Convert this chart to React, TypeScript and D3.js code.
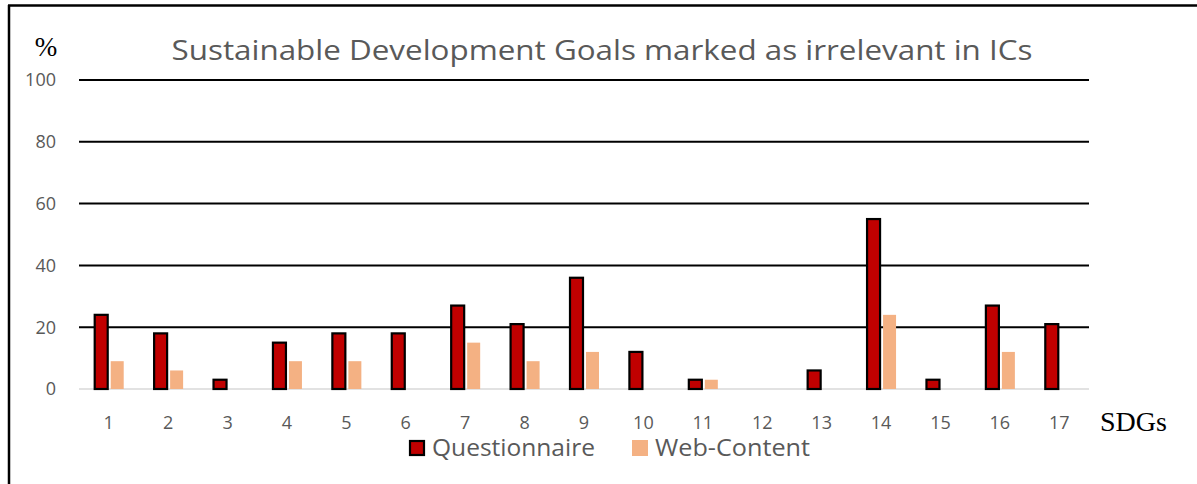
import React, { useEffect, useRef } from "react";
import * as d3 from "d3";

const goals = ["1", "2", "3", "4", "5", "6", "7", "8", "9", "10", "11", "12", "13", "14", "15", "16", "17"];
const questionnaire = [24, 18, 3, 15, 18, 18, 27, 21, 36, 12, 3, 0, 6, 55, 3, 27, 21];
const webContent = [9, 6, 0, 9, 9, 0, 15, 9, 12, 0, 3, 0, 0, 24, 0, 12, 0];
const yTicks = [0, 20, 40, 60, 80, 100];
const seriesNames = ["Questionnaire", "Web-Content"];

const W = 1197;
const H = 484;
const FONT = "'Open Sans', 'Noto Sans', sans-serif";
const SERIF = "'Liberation Serif', 'DejaVu Serif', serif";

export default function App() {
  const ref = useRef<SVGSVGElement>(null);

  useEffect(() => {
    const svg = d3.select(ref.current);
    svg.selectAll("*").remove();

    const x = d3.scaleBand().domain(goals).range([79, 1089]);
    const y = d3.scaleLinear().domain([0, 100]).range([389, 80]);

    // outer frame (top + left edges only visible)
    svg.append("line").attr("x1", 8).attr("x2", W).attr("y1", 5.5).attr("y2", 5.5)
      .attr("stroke", "#000").attr("stroke-width", 2.5);
    svg.append("line").attr("x1", 9).attr("x2", 9).attr("y1", 5).attr("y2", H)
      .attr("stroke", "#000").attr("stroke-width", 2.5);

    // title
    svg.append("text")
      .attr("x", 602).attr("y", 60)
      .attr("text-anchor", "middle")
      .attr("font-family", FONT).attr("font-size", 27)
      .attr("fill", "#595959")
      .attr("textLength", 861).attr("lengthAdjust", "spacingAndGlyphs")
      .text("Sustainable Development Goals marked as irrelevant in ICs");

    svg.append("text")
      .attr("x", 46).attr("y", 56)
      .attr("text-anchor", "middle")
      .attr("font-family", SERIF)
      .attr("font-size", 27).attr("fill", "#000")
      .text("%");

    // gridlines
    svg.append("g").selectAll("line")
      .data(yTicks.filter(d => d > 0))
      .join("line")
      .attr("x1", 79).attr("x2", 1089)
      .attr("y1", d => y(d)).attr("y2", d => y(d))
      .attr("stroke", "#000").attr("stroke-width", 2);

    svg.append("line")
      .attr("x1", 79).attr("x2", 1089)
      .attr("y1", y(0)).attr("y2", y(0))
      .attr("stroke", "#d9d9d9").attr("stroke-width", 1.5);

    // y tick labels
    svg.append("g").selectAll("text")
      .data(yTicks)
      .join("text")
      .attr("x", 56).attr("y", d => y(d))
      .attr("dy", "0.36em")
      .attr("text-anchor", "end")
      .attr("font-family", FONT).attr("font-size", 18)
      .attr("fill", "#595959")
      .text(d => d);

    // x tick labels
    svg.append("g").selectAll("text")
      .data(goals)
      .join("text")
      .attr("x", d => (x(d) as number) + x.bandwidth() / 2)
      .attr("y", 423)
      .attr("dy", "0.36em")
      .attr("text-anchor", "middle")
      .attr("font-family", FONT).attr("font-size", 18)
      .attr("fill", "#595959")
      .text(d => d);

    svg.append("text")
      .attr("x", 1100).attr("y", 431)
      .attr("font-family", SERIF)
      .attr("font-size", 28).attr("fill", "#000")
      .text("SDGs");

    const bw = 13;

    // web-content bars
    svg.append("g").selectAll("rect")
      .data(webContent.map((v, i) => ({ v, g: goals[i] })).filter(d => d.v > 0))
      .join("rect")
      .attr("x", d => (x(d.g) as number) + x.bandwidth() / 2 + 2)
      .attr("y", d => y(d.v))
      .attr("width", bw)
      .attr("height", d => y(0) - y(d.v))
      .attr("fill", "#f4b183");

    // questionnaire bars
    svg.append("g").selectAll("rect")
      .data(questionnaire.map((v, i) => ({ v, g: goals[i] })).filter(d => d.v > 0))
      .join("rect")
      .attr("x", d => (x(d.g) as number) + x.bandwidth() / 2 - 14)
      .attr("y", d => y(d.v))
      .attr("width", bw)
      .attr("height", d => y(0) - y(d.v))
      .attr("fill", "#c00000")
      .attr("stroke", "#000")
      .attr("stroke-width", 2.2);

    // legend
    const legend = svg.append("g");
    const lx = [409, 632];
    const lw = [163, 155];
    seriesNames.forEach((name, i) => {
      legend.append("rect")
        .attr("x", lx[i]).attr("y", 440)
        .attr("width", i === 0 ? 14 : 16).attr("height", i === 0 ? 14 : 16)
        .attr("transform", i === 0 ? "translate(1,1)" : null)
        .attr("fill", i === 0 ? "#c00000" : "#f4b183")
        .attr("stroke", i === 0 ? "#000" : "none")
        .attr("stroke-width", 2.2);
      legend.append("text")
        .attr("x", lx[i] + 23).attr("y", 448)
        .attr("dy", "0.36em")
        .attr("font-family", FONT).attr("font-size", 23)
        .attr("fill", "#595959")
        .attr("textLength", lw[i]).attr("lengthAdjust", "spacingAndGlyphs")
        .text(name);
    });
  }, []);

  return (
    <svg
      ref={ref}
      width={W}
      height={H}
      style={{ position: "absolute", left: 0, top: 0, background: "#fff" }}
    />
  );
}
